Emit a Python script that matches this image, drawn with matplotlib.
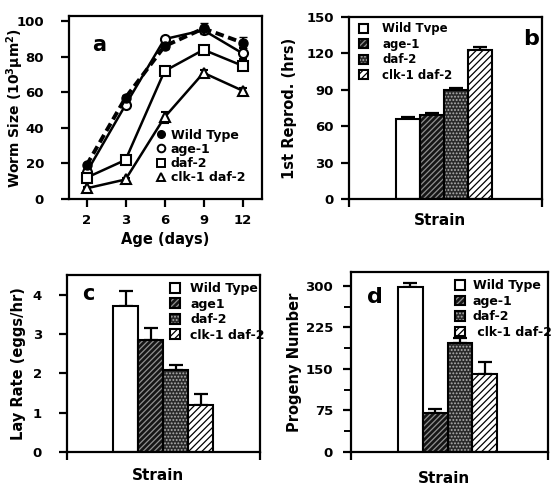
import matplotlib
matplotlib.use("Agg")
import matplotlib.pyplot as plt
import numpy as np
from matplotlib.patches import Patch
from matplotlib.lines import Line2D
from matplotlib.legend_handler import HandlerTuple

plt.rcParams['font.family'] = ['DejaVu Sans']
plt.rcParams['font.weight'] = 'bold'
plt.rcParams['hatch.linewidth'] = 0.9
plt.rcParams['mathtext.default'] = 'bf'

# ---------------- data ----------------
ages = ["2", "3", "6", "9", "12"]
wt_size = [19, 57, 86, 96, 88]
wt_err = [1.5, 1.5, 1.5, 3, 3]
age1_size = [15, 53, 90, 95, 82]
age1_err = [1, 1, 1, 1.5, 3]
daf2_size = [12, 22, 72, 84, 75]
daf2_err = [1, 1, 1, 1, 1.5]
clk_size = [6, 11, 46, 71, 61]
clk_err = [0.5, 1, 3, 1.5, 1.5]

strains = ["Wild Type", "age-1", "daf-2", "clk-1 daf-2"]
strains_b = ["Wild Tvpe", "age-1", "daf-2", "clk-1 daf-2"]
strains_c = ["Wild Type", "age1", "daf-2", "clk-1 daf-2"]
strains_d = ["Wild Type", "age-1", "daf-2", " clk-1 daf-2"]
repro = [66, 69, 90, 123]
repro_err = [1.5, 1.5, 1.5, 2]
lay = [3.72, 2.85, 2.08, 1.2]
lay_err = [0.38, 0.3, 0.13, 0.27]
progeny = [298, 70, 196, 140]
progeny_err = [7, 7, 9, 22]

W, H = 560, 495
fig = plt.figure(figsize=(W / 100, H / 100), dpi=100)

def ax_at(l, t, r, b):
    return fig.add_axes([l / W, 1 - b / H, (r - l) / W, (b - t) / H])

def style(ax):
    for s in ax.spines.values():
        s.set_linewidth(1.6)
    ax.tick_params(axis='both', direction='out', width=1.6, length=6,
                   labelsize=9.5, top=False, right=False)
    for lab in ax.get_yticklabels() + ax.get_xticklabels():
        lab.set_fontweight('bold')

LABFS = 10.5

# ---------------- panel a ----------------
ax = ax_at(69, 16, 262, 199)
x = np.arange(len(ages))
ax.errorbar(x, wt_size, yerr=wt_err, color='black', lw=2.8, ls=(0, (2.2, 1.2)),
            marker='o', ms=6.5, mfc='black', mec='black', capsize=3, elinewidth=1.5, zorder=5)
ax.errorbar(x, age1_size, yerr=age1_err, color='black', lw=1.8, marker='o', ms=6.5,
            mfc='white', mec='black', mew=1.5, capsize=3, elinewidth=1.5, zorder=4)
ax.errorbar(x, daf2_size, yerr=daf2_err, color='black', lw=1.8, marker='s', ms=6.5,
            mfc='white', mec='black', mew=1.5, capsize=3, elinewidth=1.5, zorder=4)
ax.errorbar(x, clk_size, yerr=clk_err, color='black', lw=1.8, marker='^', ms=7,
            mfc='white', mec='black', mew=1.5, capsize=3, elinewidth=1.5, zorder=4)
ax.set_xlim(-0.45, 4.5)
ax.set_ylim(0, 103)
ax.set_xticks(x)
ax.set_xticklabels(ages)
ax.set_yticks(np.arange(0, 101, 20))
style(ax)
ax.tick_params(axis='y', pad=12)
ax.tick_params(axis='x', pad=5)
ax.set_xlabel("Age (days)", fontsize=LABFS, fontweight='bold', va='top')
ax.xaxis.set_label_coords(0.5, -0.18)
ax.set_ylabel("Worm Size (10$^3$µm$^2$)", fontsize=10, fontweight='bold')
ax.yaxis.set_label_coords(-0.225, 0.5)
ax.text(0.12, 0.84, "a", transform=ax.transAxes, fontsize=15, fontweight='bold', va='center')
hs = [Line2D([], [], ls='none', marker='o', ms=5.5, mfc='black', mec='black'),
      Line2D([], [], ls='none', marker='o', ms=5.5, mfc='white', mec='black', mew=1.4),
      Line2D([], [], ls='none', marker='s', ms=5.5, mfc='white', mec='black', mew=1.4),
      Line2D([], [], ls='none', marker='^', ms=6, mfc='white', mec='black', mew=1.4)]
leg = ax.legend(hs, strains, loc='lower left', bbox_to_anchor=(0.45, 0.08), frameon=False,
                fontsize=9, handlelength=0.8, handletextpad=0.4, labelspacing=0.1,
                borderpad=0, borderaxespad=0)
for t in leg.get_texts():
    t.set_fontweight('bold')

# ---------------- bar helpers ----------------
bar_styles = [
    dict(fc='white', hatch=None, hc='white'),
    dict(fc='#151515', hatch='//////', hc='#909090'),
    dict(fc='#2a2a2a', hatch='.....', hc='#b0b0b0'),
    dict(fc='white', hatch='/////', hc='black'),
]

def draw_bars(ax, vals, errs, width):
    pos = np.arange(len(vals))
    for i, (v, st) in enumerate(zip(vals, bar_styles)):
        ax.bar(pos[i], v, width=width, color=st['fc'], edgecolor=st['hc'],
               hatch=st['hatch'], linewidth=0, zorder=2)
        ax.bar(pos[i], v, width=width, fill=False, edgecolor='black', linewidth=1.5, zorder=3)
    ax.errorbar(pos, vals, yerr=[np.zeros(len(vals)), errs], fmt='none', ecolor='black',
                elinewidth=1.6, capsize=5, capthick=1.6, zorder=1)

def legend_handles():
    hs = []
    for st in bar_styles:
        p1 = Patch(facecolor=st['fc'], edgecolor=st['hc'], hatch=st['hatch'], linewidth=0)
        p2 = Patch(fill=False, edgecolor='black', linewidth=1.5)
        hs.append((p1, p2))
    return hs

def bar_legend(ax, labels, anchor, fs, tp=0.8):
    leg = ax.legend(legend_handles(), labels, loc='upper left', bbox_to_anchor=anchor,
                    frameon=False, fontsize=fs, handlelength=0.8, handleheight=0.8,
                    handletextpad=tp, labelspacing=0.2, borderpad=0, borderaxespad=0,
                    handler_map={tuple: HandlerTuple(ndivide=1, pad=0)})
    for t in leg.get_texts():
        t.set_fontweight('bold')

def finish_bar_axis(ax, xlim, ylab, ylab_x, xlab_y):
    ax.set_xlim(*xlim)
    ax.set_xticks(list(xlim))
    ax.set_xticklabels(["", ""])
    style(ax)
    ax.set_xlabel("Strain", fontsize=LABFS + 0.5, fontweight='bold', va='top')
    ax.xaxis.set_label_coords(0.47, xlab_y)
    ax.set_ylabel(ylab, fontsize=LABFS, fontweight='bold')
    ax.yaxis.set_label_coords(ylab_x, 0.5)

# ---------------- panel b ----------------
ax = ax_at(349, 17, 542, 199)
draw_bars(ax, repro, repro_err, 1.0)
ax.set_ylim(0, 150)
ax.set_yticks(np.arange(0, 151, 30))
finish_bar_axis(ax, (-2.46, 5.58), "1st Reprod. (hrs)", -0.27, -0.075)
ax.tick_params(axis='y', pad=5)
ax.text(0.9, 0.88, "b", transform=ax.transAxes, fontsize=16, fontweight='bold', va='center')
bar_legend(ax, strains_b, (0.05, 0.97), 8.5, tp=1.2)

# ---------------- panel c ----------------
ax = ax_at(67, 275, 260, 452)
draw_bars(ax, lay, lay_err, 1.0)
ax.set_ylim(0, 4.5)
ax.set_yticks(np.arange(0, 5, 1))
finish_bar_axis(ax, (-2.34, 5.38), "Lay Rate (eggs/hr)", -0.215, -0.09)
ax.tick_params(axis='y', pad=12)
ax.text(0.08, 0.89, "c", transform=ax.transAxes, fontsize=15, fontweight='bold', va='center')
bar_legend(ax, strains_c, (0.535, 0.96), 9, tp=0.8)

# ---------------- panel d ----------------
ax = ax_at(351, 272, 548, 452)
draw_bars(ax, progeny, progeny_err, 1.0)
ax.set_ylim(0, 325)
ax.set_yticks(np.arange(0, 301, 75))
ax.set_yticks(np.arange(37.5, 325, 75), minor=True)
finish_bar_axis(ax, (-2.4, 5.56), "Progeny Number", -0.25, -0.105)
ax.tick_params(axis='y', which='minor', direction='out', width=1.4, length=5)
ax.tick_params(axis='y', pad=7)
ax.text(0.08, 0.86, "d", transform=ax.transAxes, fontsize=16, fontweight='bold', va='center')
bar_legend(ax, strains_d, (0.53, 0.96), 9, tp=0.6)

fig.savefig("out.png", dpi=100)
